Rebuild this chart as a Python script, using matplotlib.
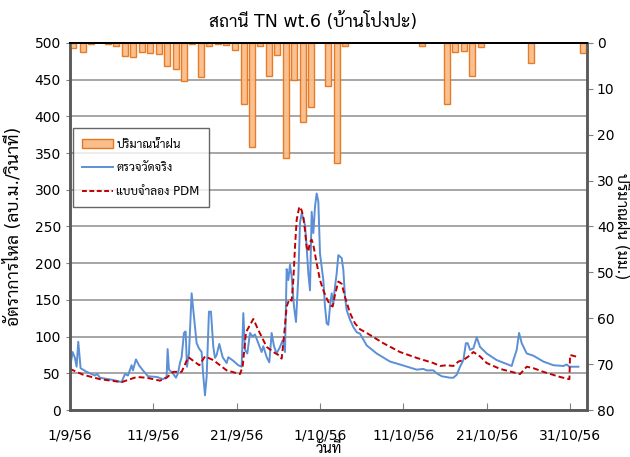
import matplotlib
matplotlib.use("Agg")
import matplotlib.pyplot as plt
from matplotlib import font_manager
from matplotlib.lines import Line2D
from matplotlib.patches import Patch

# rain (mm), one bar per day, x = days after 1/9/56
rain_day = [0.36, 1.56, 2.52, 4.56, 5.52, 6.6, 7.56, 8.64, 9.6, 10.68, 11.64, 12.72,
            13.68, 14.64, 15.72, 16.68, 17.76, 18.72, 19.8, 20.88, 21.84, 22.8, 23.88,
            24.84, 25.92, 26.88, 27.96, 28.92, 30.96, 32.04, 33.0, 42.24, 45.24, 46.2,
            47.28, 48.24, 49.32, 55.32, 61.56]
rain_mm = [1.1, 2.0, 0.3, 0.3, 0.6, 2.8, 3.0, 2.0, 2.2, 2.4, 5.0, 5.7,
           8.2, 0.3, 7.5, 0.7, 0.15, 0.4, 1.5, 13.4, 22.7, 0.6, 7.2,
           2.6, 25.1, 8.1, 17.2, 14.0, 9.3, 26.1, 0.6, 0.6, 13.2, 2.0,
           1.7, 7.2, 0.8, 4.4, 2.1]

# observed flow (m3/s)
obs_day = [0.0, 0.32, 0.6, 0.8, 1.0, 1.28, 2.0, 3.0, 3.28, 3.6, 5.16, 6.2, 6.6, 6.96,
           7.4, 7.56, 7.92, 8.28, 8.76, 9.36, 10.44, 11.16, 11.6, 11.72, 11.88, 12.36,
           12.72, 12.96, 13.2, 13.4, 13.68, 13.88, 14.04, 14.28, 14.6, 14.88, 15.2,
           15.48, 15.8, 15.96, 16.2, 16.4, 16.68, 16.92, 17.2, 17.4, 17.6, 17.92,
           18.32, 18.8, 19.0, 19.6, 20.2, 20.6, 20.8, 21.0, 21.28, 21.6, 21.92, 22.2,
           22.6, 23.0, 23.2, 23.6, 23.92, 24.2, 24.48, 24.8, 25.2, 25.52, 25.8, 26.0,
           26.2, 26.4, 26.6, 26.88, 27.12, 27.4, 27.6, 27.8, 28.0, 28.2, 28.4, 28.6,
           28.8, 29.0, 29.2, 29.4, 29.6, 29.8, 30.0, 30.4, 30.6, 30.8, 31.0, 31.2,
           31.4, 31.6, 31.8, 32.0, 32.2, 32.4, 32.6, 32.8, 33.0, 33.2, 33.6, 34.0,
           34.4, 34.8, 35.6, 36.8, 38.4, 39.6, 41.6, 42.4, 42.8, 43.6, 44.0, 44.6,
           45.6, 46.0, 46.4, 46.8, 47.2, 47.5, 47.72, 48.0, 48.4, 48.8, 49.2, 50.0,
           51.2, 53.0, 53.2, 53.6, 53.88, 54.2, 54.8, 55.6, 56.8, 58.0, 59.2, 59.6,
           59.92, 61.0]
obs_flow = [57, 79, 71, 59, 93, 57, 52, 47, 49, 44, 41, 38, 49, 47,
            61, 54, 69, 61, 54, 46, 45, 42, 45, 83, 55, 50,
            44, 50, 64, 72, 105, 107, 59, 77, 159, 127, 91,
            84, 79, 52, 20, 45, 134, 134, 86, 71, 75, 90,
            72, 64, 72, 67, 61, 59, 132, 82, 77, 105, 100, 103,
            91, 79, 87, 72, 65, 105, 87, 77, 86, 95, 79, 192,
            177, 198, 182, 141, 120, 182, 255, 268, 261, 252, 222, 186,
            163, 270, 241, 277, 295, 284, 213, 177, 141, 118, 116, 141,
            159, 145, 168, 186, 211, 209, 207, 191, 154, 136, 123, 113,
            106, 104, 88, 77, 66, 62, 55, 56, 54, 54, 50, 46,
            44, 44, 48, 59, 68, 91, 91, 82, 84, 99, 86, 77,
            68, 60, 68, 82, 105, 91, 77, 74, 66, 61, 60, 62,
            59, 59]

# PDM model flow (m3/s)
pdm_day = [0.0, 1.6, 3.6, 6.2, 8.0, 9.2, 10.8, 11.6, 12.4, 13.4, 14.2, 14.8, 15.52,
           16.2, 17.2, 18.8, 20.4, 20.72, 21.12, 22.0, 22.6, 23.6, 24.4, 25.0, 25.4,
           25.68, 26.0, 26.32, 26.6, 26.8, 27.0, 27.2, 27.52, 27.8, 28.0, 28.2, 28.4,
           28.6, 28.8, 29.0, 29.2, 29.6, 30.0, 30.4, 30.8, 31.2, 31.52, 31.8, 32.2,
           32.6, 33.0, 33.6, 34.2, 34.8, 35.6, 37.6, 39.6, 41.6, 43.6, 44.4, 45.2,
           46.0, 46.6, 47.2, 47.8, 48.4, 49.2, 50.0, 51.6, 54.0, 54.8, 55.6, 56.8,
           58.8, 59.92, 60.0, 61.0]
pdm_flow = [56, 48, 42, 38, 45, 44, 40, 44, 52, 52, 72, 67, 61,
            73, 68, 54, 49, 59, 106, 124, 109, 86, 79, 75, 70,
            100, 141, 151, 149, 177, 222, 259, 277, 272, 263, 245, 222,
            216, 229, 232, 225, 200, 177, 163, 152, 143, 141, 157, 175,
            172, 154, 132, 118, 110, 105, 91, 79, 71, 64, 60, 61,
            60, 66, 68, 73, 79, 73, 64, 56, 49, 59, 57, 52,
            45, 42, 75, 72]

tick_days = [0, 10, 20, 30, 40, 50, 60]
tick_labels = ['1/9/56', '11/9/56', '21/9/56', '1/10/56', '11/10/56', '21/10/56', '31/10/56']

# DejaVu for latin/digits, a Thai family picked up for the Thai glyphs
installed = {f.name for f in font_manager.fontManager.ttflist}
thai = [n for n in ['Sarabun', 'Noto Sans Thai Looped', 'Noto Sans Thai', 'Bai Jamjuree', 'Athiti']
        if n in installed]
plt.rcParams['font.family'] = ['DejaVu Sans'] + thai[:1]
plt.rcParams['font.size'] = 10

fig = plt.figure(figsize=(6.3, 4.57), dpi=100)
ax = fig.add_axes([0.111, 0.1028, 0.821, 0.8032])
ax2 = ax.twinx()

blue = '#5B8FD6'
red = '#C00000'
bar_face = '#F9BE8C'
bar_edge = '#E8761E'
ax.plot(obs_day, obs_flow, color=blue, lw=1.4, zorder=3)
ax.plot(pdm_day, pdm_flow, color=red, lw=1.4, ls=(0, (3, 1.6)), zorder=4)

ax2.bar(rain_day, rain_mm, width=0.62, color=bar_face, edgecolor=bar_edge,
        linewidth=1.0, alpha=0.95, zorder=2)

ax.set_xlim(0, 62.05)
ax.set_ylim(0, 500)
ax.set_yticks(range(0, 501, 50))
ax.set_xticks(tick_days)
ax.set_xticklabels(tick_labels)
ax.grid(axis='y', color='#A6A6A6', lw=1.4)
ax.set_axisbelow(True)
ax.tick_params(axis='x', direction='in', length=5, color='#808080', pad=13, labelsize=10)
ax.tick_params(axis='y', direction='out', length=3, color='#808080', labelsize=10)

ax2.set_ylim(80, 0)
ax2.set_yticks(range(0, 81, 10))
ax2.tick_params(axis='y', direction='out', length=4, color='#808080', labelsize=10, pad=3)

for a in (ax, ax2):
    for side in ('left', 'bottom', 'right'):
        a.spines[side].set_color('#595959')
        a.spines[side].set_linewidth(1.8)
    a.spines['top'].set_color('black')
    a.spines['top'].set_linewidth(1.4)

ax.set_ylabel('อัตราการไหล (ลบ.ม./วินาที)', fontsize=12.5, labelpad=8)
ax2.set_ylabel('ปริมาณฝน (มม.)', fontsize=11, rotation=270, va='center', ha='center')
ax2.yaxis.set_label_coords(1.067, 0.5)
ax.set_xlabel('วันที่', fontsize=10.5, va='center')
ax.xaxis.set_label_coords(0.5, -0.104)
fig.text(0.497, 0.952, 'สถานี TN wt.6 (บ้านโป่งปะ)', ha='center', va='center', fontsize=12.5)

handles = [Patch(facecolor=bar_face, edgecolor=bar_edge),
           Line2D([], [], color=blue, lw=1.4),
           Line2D([], [], color=red, lw=1.4, ls=(0, (2.5, 1.3)))]
labels = ['ปริมาณน้ำฝน', 'ตรวจวัดจริง', 'แบบจำลอง PDM']
leg = ax2.legend(handles, labels, loc='upper left', bbox_to_anchor=(0.005, 0.768),
                 borderaxespad=0, fontsize=8.5, frameon=True, fancybox=False,
                 borderpad=0.8, labelspacing=0.9, handlelength=2.6, handletextpad=0.3)
leg.get_frame().set_edgecolor('#404040')
leg.get_frame().set_linewidth(1.0)

fig.savefig('out.png', dpi=100)
